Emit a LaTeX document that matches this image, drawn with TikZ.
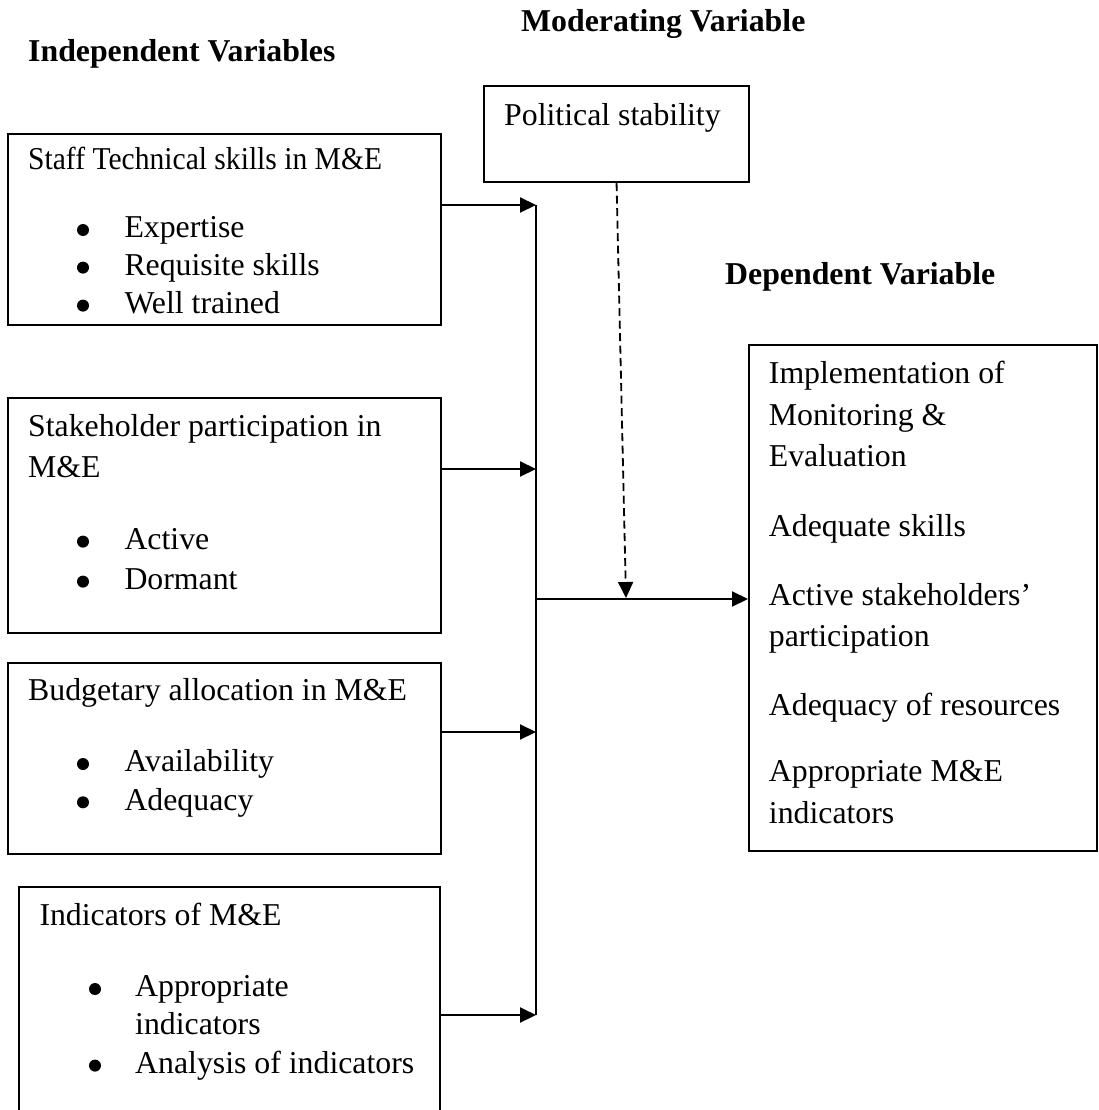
\documentclass[tikz,border=0pt]{standalone}
\usepackage{fontspec}
\setmainfont{Liberation Serif}
\usetikzlibrary{arrows.meta}
\begin{document}
\begin{tikzpicture}[x=1pt,y=-1pt,
  txt/.style={anchor=base west, inner sep=0pt, font=\fontsize{31.8}{38}\selectfont},
  head/.style={anchor=base west, inner sep=0pt, font=\fontsize{31.8}{38}\selectfont\bfseries},
  dot/.style={circle, fill=black, inner sep=0pt, minimum size=12pt},
  frame/.style={draw, line width=2.1pt, anchor=north west, inner sep=0pt},
  link/.style={line width=2.1pt},
  arr/.style={line width=2.1pt, -{Triangle[length=16pt,width=15pt]}},
  darr/.style={line width=1.8pt, dash pattern=on 8pt off 4.5pt, -{Triangle[length=16pt,width=15pt]}}
]
\useasboundingbox (0,0) rectangle (1098,1110);

% headings
\node[head] (hind) at (28,62) {Independent Variables};
\node[head] (hmod) at (521,32) {Moderating Variable};
\node[head] (hdep) at (725,284) {Dependent Variable};

% boxes
\node[frame, minimum width=433pt, minimum height=191pt] (b1) at (7,133) {};
\node[frame, minimum width=433pt, minimum height=235pt] (b2) at (7,397) {};
\node[frame, minimum width=433pt, minimum height=191pt] (b3) at (7,662) {};
\node[anchor=north west, inner sep=0pt, minimum width=421pt, minimum height=226pt] (b4) at (19,887) {};
\draw[link] (b4.south west) -- (b4.north west) -- (b4.north east) -- (b4.south east);
\node[frame, minimum width=265pt, minimum height=96pt] (pol) at (483,85) {};
\node[frame, minimum width=348pt, minimum height=506pt] (dep) at (748,344) {};

% box 1
\node[txt] (t1) at (28,170) {\scalebox{0.93}[1]{Staff Technical skills in M\&E}};
\node[dot] (t1a) at (83,230) {};
\node[txt] (t1b) at (124.3,237.7) {Expertise};
\node[dot] (t1c) at (83,267.6) {};
\node[txt] (t1d) at (124.3,275.3) {Requisite skills};
\node[dot] (t1e) at (83,305.6) {};
\node[txt] (t1f) at (124.3,313.3) {Well trained};

% box 2
\node[txt] (t2) at (28,436.7) {Stakeholder participation in};
\node[txt] (t2x) at (28,477.3) {M\&E};
\node[dot] (t2a) at (83,541.6) {};
\node[txt] (t2b) at (124.3,549.3) {Active};
\node[dot] (t2c) at (83,581.6) {};
\node[txt] (t2d) at (124.3,589.3) {Dormant};

% box 3
\node[txt] (t3) at (28,700) {Budgetary allocation in M\&E};
\node[dot] (t3a) at (83,764) {};
\node[txt] (t3b) at (124.3,771.7) {Availability};
\node[dot] (t3c) at (83,802.3) {};
\node[txt] (t3d) at (124.3,810) {Adequacy};

% box 4
\node[txt] (t4) at (39.3,925) {Indicators of M\&E};
\node[dot] (t4a) at (95,989) {};
\node[txt] (t4b) at (135,996.7) {Appropriate};
\node[txt] (t4c) at (135,1034) {indicators};
\node[dot] (t4d) at (95,1065.6) {};
\node[txt] (t4e) at (135,1073.3) {Analysis of indicators};

% moderating
\node[txt] (tp) at (504,126) {Political stability};

% dependent
\node[txt] (d1) at (768.7,383.3) {Implementation of};
\node[txt] (d2) at (768.7,425) {Monitoring \&};
\node[txt] (d3) at (768.7,466.7) {Evaluation};
\node[txt] (d4) at (768.7,536.7) {Adequate skills};
\node[txt] (d5) at (768.7,605) {Active stakeholders’};
\node[txt] (d6) at (768.7,646.7) {participation};
\node[txt] (d7) at (768.7,715) {Adequacy of resources};
\node[txt] (d8) at (768.7,781.7) {Appropriate M\&E};
\node[txt] (d9) at (768.7,823.3) {indicators};

% connectors
\coordinate (j1) at (536,205);
\coordinate (j2) at (536,469);
\coordinate (j3) at (536,732);
\coordinate (j4) at (536,1015);
\coordinate (jm) at (536,599);
\coordinate (dm) at (626,598);

\draw[link] (j1) -- (j4);
\draw[arr] (b1.east |- j1) -- (j1);
\draw[arr] (b2.east |- j2) -- (j2);
\draw[arr] (b3.east |- j3) -- (j3);
\draw[arr] (b4.east |- j4) -- (j4);
\draw[arr] (jm) -- (dep.west |- jm);
\draw[darr] (pol.south) -- (dm);
\end{tikzpicture}
\end{document}
